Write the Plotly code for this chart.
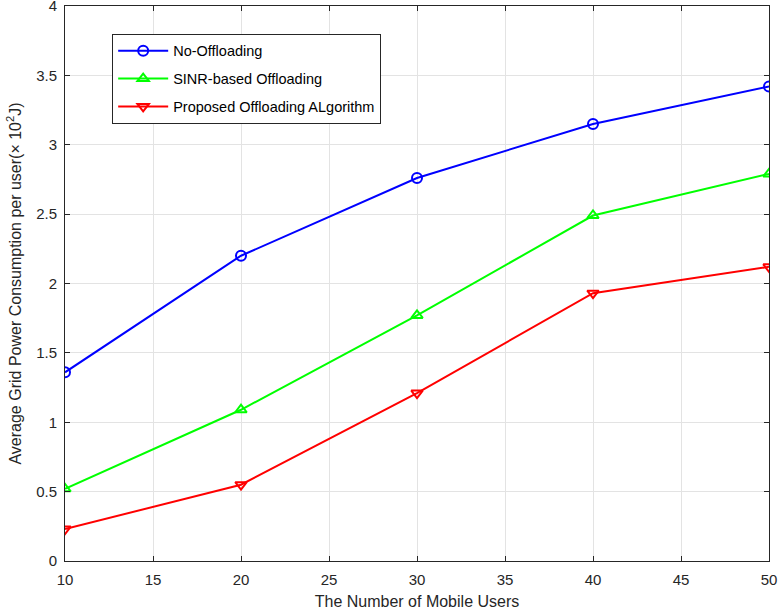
import plotly.graph_objects as go

users = [10, 20, 30, 40, 50]
no_offloading = [1.36, 2.20, 2.76, 3.15, 3.42]
sinr_offloading = [0.52, 1.09, 1.77, 2.49, 2.79]
proposed = [0.23, 0.55, 1.21, 1.93, 2.12]

names = ["No-Offloading", "SINR-based Offloading", "Proposed Offloading ALgorithm"]
colors = ["#0000ff", "#00ff00", "#ff0000"]
symbols = ["circle-open", "triangle-up-open", "triangle-down-open"]

fig = go.Figure()
for i, (ys, n, c, s) in enumerate(zip([no_offloading, sinr_offloading, proposed], names, colors, symbols)):
    fig.add_trace(go.Scatter(x=users, y=ys, name=n, mode="lines+markers", legendgroup=f"g{i}",
                             line=dict(color=c, width=2),
                             marker=dict(symbol=s, size=10, color=c, line=dict(width=2, color=c))))

FONT = "Liberation Sans, Arial"
axis_common = dict(showgrid=True, gridcolor="#e3e3e3", gridwidth=1, showline=True,
                   linecolor="#262626", linewidth=1, mirror="ticks", ticks="inside",
                   ticklen=5, tickcolor="#262626", zeroline=False, ticklabeloverflow="allow",
                   automargin=False,
                   tickfont=dict(family=FONT, size=15, color="#262626"))

fig.update_layout(
    width=779, height=616,
    margin=dict(l=65, r=10, t=6, b=55),
    plot_bgcolor="white", paper_bgcolor="white",
    xaxis=dict(range=[10, 50], tickvals=[10, 15, 20, 25, 30, 35, 40, 45, 50],
               ticklabelstandoff=5,
               title=dict(text="The Number of Mobile Users", standoff=8,
                          font=dict(family=FONT, size=16, color="#262626")),
               **axis_common),
    yaxis=dict(range=[0, 4], tickvals=[0, 0.5, 1, 1.5, 2, 2.5, 3, 3.5, 4],
               ticktext=["0", "0.5", "1", "1.5", "2", "2.5", "3", "3.5", "4"],
               ticklabelstandoff=4,
               title=dict(text="Average Grid Power Consumption per user(\u00d7 10<sup>2</sup>J)", standoff=10,
                          font=dict(family=FONT, size=16, color="#262626")),
               **axis_common),
    legend=dict(x=0.067, y=0.95, xanchor="left", yanchor="top",
                bgcolor="white", bordercolor="#262626", borderwidth=1,
                font=dict(family=FONT, size=14.5, color="#000000"),
                tracegroupgap=6, itemwidth=50),
    showlegend=True,
)

fig.write_html("out.html")
